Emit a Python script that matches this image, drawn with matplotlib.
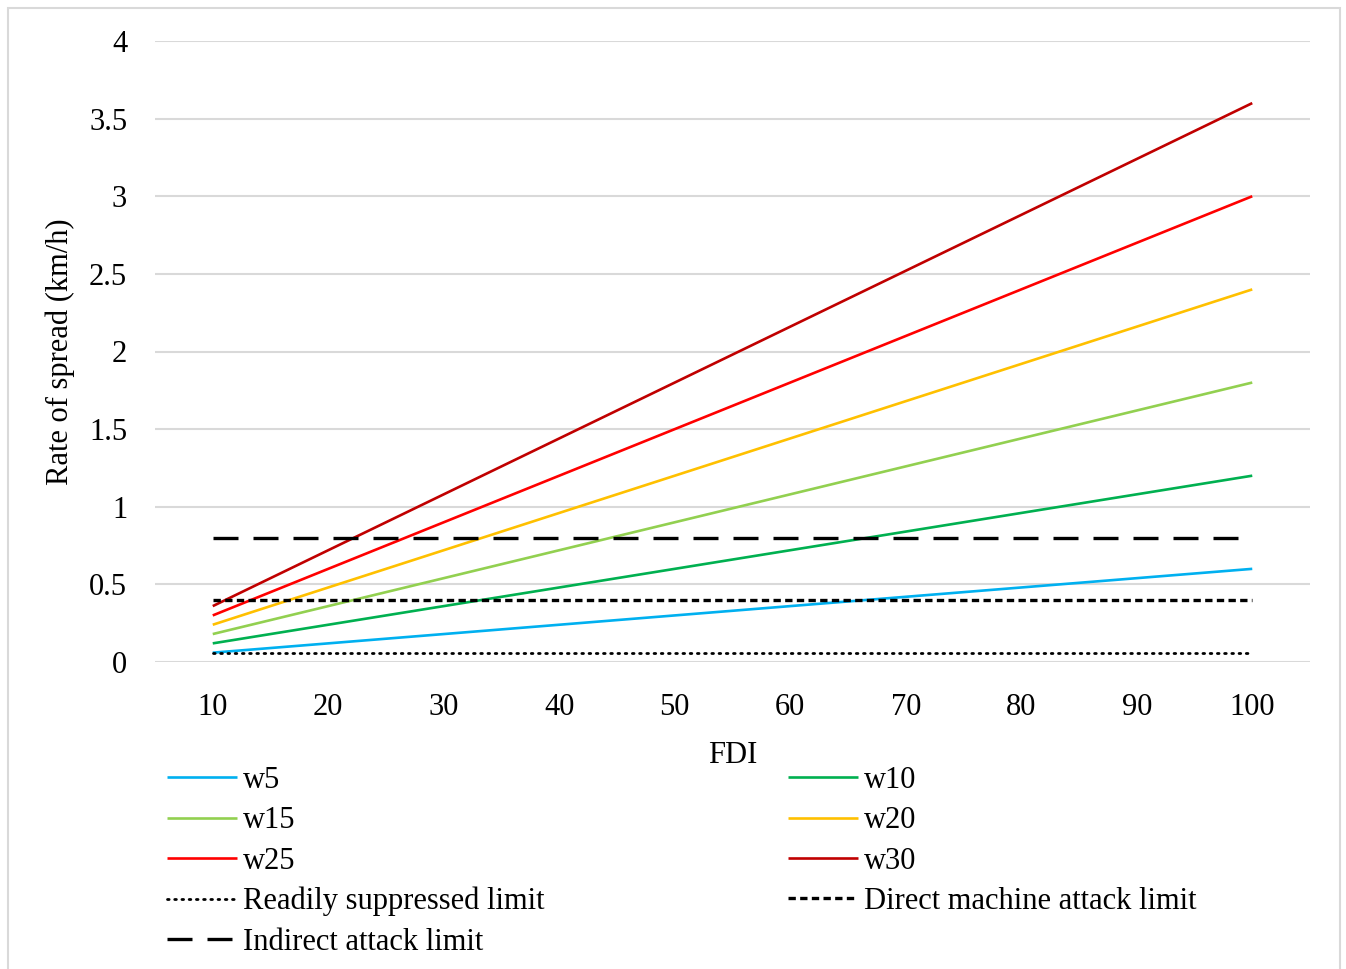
import matplotlib
matplotlib.use("Agg")
import matplotlib.pyplot as plt
from matplotlib.patches import Rectangle
import numpy as np

plt.rcParams['font.family'] = ['Liberation Serif', 'DejaVu Serif']

fdi = [10, 20, 30, 40, 50, 60, 70, 80, 90, 100]
w5 = [0.06, 0.12, 0.18, 0.24, 0.30, 0.36, 0.42, 0.48, 0.54, 0.60]
w10 = [0.12, 0.24, 0.36, 0.48, 0.60, 0.72, 0.84, 0.96, 1.08, 1.20]
w15 = [0.18, 0.36, 0.54, 0.72, 0.90, 1.08, 1.26, 1.44, 1.62, 1.80]
w20 = [0.24, 0.48, 0.72, 0.96, 1.20, 1.44, 1.68, 1.92, 2.16, 2.40]
w25 = [0.30, 0.60, 0.90, 1.20, 1.50, 1.80, 2.10, 2.40, 2.70, 3.00]
w30 = [0.36, 0.72, 1.08, 1.44, 1.80, 2.16, 2.52, 2.88, 3.24, 3.60]
readily = [0.06] * 10
direct = [0.4] * 10
indirect = [0.8] * 10

series_names = ["w5", "w10", "w15", "w20", "w25", "w30"]
series_vals = [w5, w10, w15, w20, w25, w30]
series_colors = ["#00B0F0", "#00B050", "#92D050", "#FFC000", "#FF0000", "#C00000"]

FS = 22

fig = plt.figure(figsize=(13.46, 9.69), dpi=100)
ax = fig.add_axes([155/1346, 1-662/969, (1310-155)/1346, (662-41)/969])

x = np.arange(len(fdi))
handles = {}
for name, vals, col in zip(series_names, series_vals, series_colors):
    h, = ax.plot(x, vals, color=col, lw=1.9, label=name, solid_capstyle='butt')
    handles[name] = h

h_r, = ax.plot(x, readily, color='black', lw=2.0, linestyle=(0, (0.6, 2.0)),
               dash_capstyle='round', label='Readily suppressed limit')
h_d, = ax.plot(x, direct, color='black', lw=2.4, linestyle=(0, (2.2, 1.3)),
               label='Direct machine attack limit')
h_i, = ax.plot(x, indirect, color='black', lw=2.4, linestyle=(0, (7.5, 4.5)),
               label='Indirect attack limit')

ax.set_xlim(-0.5, len(fdi) - 0.5)
ax.set_ylim(0, 4)
ax.set_yticks([0, 0.5, 1, 1.5, 2, 2.5, 3, 3.5, 4])
ax.set_yticklabels(["0", "0.5", "1", "1.5", "2", "2.5", "3", "3.5", "4"])
ax.set_xticks(x)
ax.set_xticklabels([str(v) for v in fdi])
ax.tick_params(axis='both', length=0, labelsize=FS)
ax.tick_params(axis='y', pad=20)
ax.tick_params(axis='x', pad=22)
ax.grid(axis='y', color='#D9D9D9', lw=1.5)
ax.set_axisbelow(True)
for s in ax.spines.values():
    s.set_visible(False)

ax.set_xlabel("FDI", fontsize=FS, labelpad=14)
ax.set_ylabel("Rate of spread (km/h)", fontsize=FS, labelpad=10)

order = [handles["w5"], handles["w15"], handles["w25"], h_r, h_i,
         handles["w10"], handles["w20"], handles["w30"], h_d]
leg = fig.legend(handles=order, labels=[h.get_label() for h in order],
                 ncol=2, loc='upper left', bbox_to_anchor=(167/1346, 1-766/969),
                 frameon=False, fontsize=FS, handlelength=2.3, handletextpad=0.2,
                 columnspacing=7.95, labelspacing=0.37, borderpad=0, borderaxespad=0)

fig.patches.append(Rectangle((8/1346, -0.05), (1340-8)/1346, 1.05 - 8/969,
                             transform=fig.transFigure, fill=False,
                             edgecolor='#D9D9D9', lw=1.5))

fig.savefig("out.png", dpi=100)
